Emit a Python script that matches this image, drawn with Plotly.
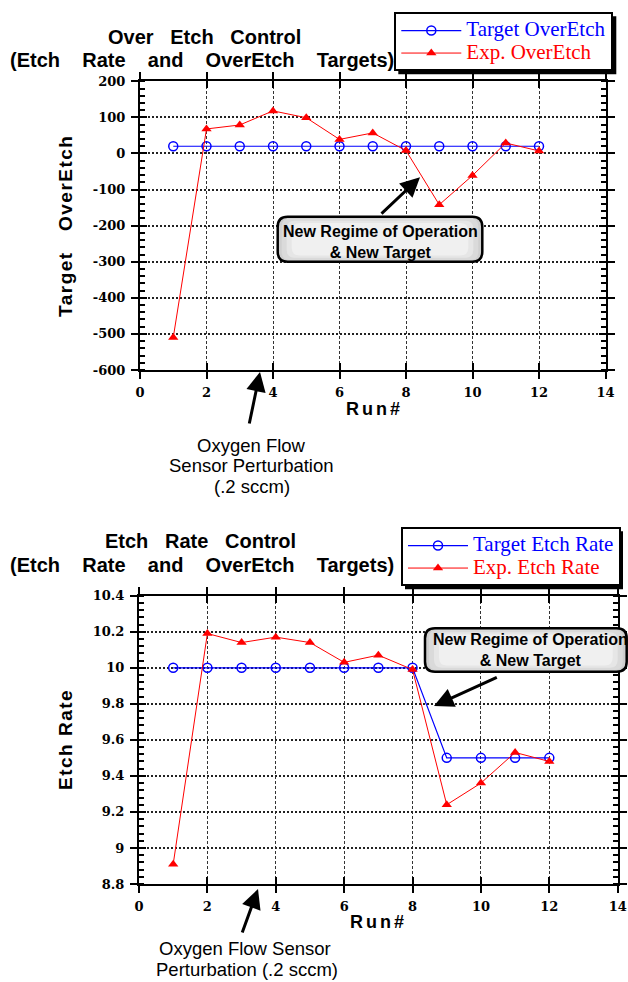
import plotly.graph_objects as go

# Figure fills the whole 628x982 page (body margin removed in post_script)
OFF = 0
W, H = 628, 982

# ---------------- data ----------------
runs = [1, 2, 3, 4, 5, 6, 7, 8, 9, 10, 11, 12]
target_overetch = [20, 20, 20, 20, 20, 20, 20, 20, 20, 20, 20, 20]
exp_overetch = [-510, 68, 79, 118, 99, 39, 57, 8, -142, -61, 29, 7]
target_etch_rate = [10, 10, 10, 10, 10, 10, 10, 10, 9.5, 9.5, 9.5, 9.5]
exp_etch_rate = [8.91, 10.19, 10.14, 10.17, 10.14, 10.03, 10.07, 9.99, 9.24, 9.36, 9.53, 9.48]

x_tickvals = [0, 2, 4, 6, 8, 10, 12, 14]
x_ticktext = ["0", "2", "4", "6", "8", "10", "12", "14"]
y1_tickvals = [-600, -500, -400, -300, -200, -100, 0, 100, 200]
y1_ticktext = ["-600", "-500", "-400", "-300", "-200", "-100", "0", "100", "200"]
y2_tickvals = [8.8, 9.0, 9.2, 9.4, 9.6, 9.8, 10.0, 10.2, 10.4]
y2_ticktext = ["8.8", "9", "9.2", "9.4", "9.6", "9.8", "10", "10.2", "10.4"]

# ---------------- helpers (page pixel -> paper fraction) ----------------
def px(x):
    return (x - OFF) / W

def py(y):
    return 1 - (y - OFF) / H

NB = "\u00a0"
SANS = "Liberation Sans, Arial, sans-serif"
SERIF = "Liberation Serif, Times New Roman, serif"
TICKF = dict(family="DejaVu Serif, serif", size=13, color="black", weight="bold")

BLUE = "#0000ff"
RED = "#ff0000"

def leg_name(s, color):
    return f"<span style='color:{color};font-size:21px'>{s}</span>"

fig = go.Figure()

fig.add_trace(go.Scatter(
    x=runs, y=target_overetch, mode="lines+markers", name=leg_name("Target OverEtch", BLUE),
    line=dict(color=BLUE, width=1.2), marker=dict(symbol="circle-open", size=9, color=BLUE, line=dict(width=1.5)),
    xaxis="x", yaxis="y", legend="legend"))
fig.add_trace(go.Scatter(
    x=runs, y=exp_overetch, mode="lines+markers", name=leg_name("Exp. OverEtch", RED),
    line=dict(color=RED, width=1), marker=dict(symbol="triangle-up", size=9, color=RED),
    xaxis="x", yaxis="y", legend="legend"))

fig.add_trace(go.Scatter(
    x=runs, y=target_etch_rate, mode="lines+markers", name=leg_name("Target Etch Rate", BLUE),
    line=dict(color=BLUE, width=1.2), marker=dict(symbol="circle-open", size=9, color=BLUE, line=dict(width=1.5)),
    xaxis="x2", yaxis="y2", legend="legend2"))
fig.add_trace(go.Scatter(
    x=runs, y=exp_etch_rate, mode="lines+markers", name=leg_name("Exp. Etch Rate", RED),
    line=dict(color=RED, width=1), marker=dict(symbol="triangle-up", size=9, color=RED),
    xaxis="x2", yaxis="y2", legend="legend2"))

# empty traces that activate the overlay axes carrying the inside half of the crossing ticks
fig.add_trace(go.Scatter(x=[], y=[], xaxis="x3", yaxis="y3", showlegend=False))
fig.add_trace(go.Scatter(x=[], y=[], xaxis="x4", yaxis="y4", showlegend=False))

top_xd = [px(140), px(605.5)]
top_yd = [py(370), py(81.3)]
bot_xd = [px(139), px(617.7)]
bot_yd = [py(884), py(595.7)]

def base_x(domain, anchor):
    return dict(domain=domain, anchor=anchor, range=[0, 14], tickvals=x_tickvals, ticktext=x_ticktext,
                ticks="outside", ticklen=7, tickwidth=2, tickcolor="black",
                showline=True, linewidth=2, linecolor="black", mirror="ticks",
                showgrid=True, gridcolor="#333333", gridwidth=1, griddash="3px,2px",
                tickfont=TICKF, zeroline=False, ticklabelstandoff=2, automargin=False)

def base_y(domain, anchor, rng, tv, tt, mdt):
    return dict(domain=domain, anchor=anchor, range=rng, tickvals=tv, ticktext=tt,
                ticks="outside", ticklen=7, tickwidth=2, tickcolor="black",
                showline=True, linewidth=2, linecolor="black", mirror="ticks",
                showgrid=True, gridcolor="#222222", gridwidth=1.5, griddash="2px,2px",
                tickfont=TICKF, zeroline=False, ticklabelstandoff=3, automargin=False,
                minor=dict(ticks="inside", ticklen=5, tickwidth=2, tickcolor="black", dtick=mdt, showgrid=False))

def over_x(over, anchor, domain):
    return dict(overlaying=over, anchor=anchor, domain=domain, range=[0, 14], tickvals=x_tickvals,
                ticks="inside", ticklen=7, tickwidth=2, tickcolor="black", mirror="ticks",
                showticklabels=False, showgrid=False, showline=False, zeroline=False, automargin=False)

def over_y(over, anchor, domain, rng, tv):
    return dict(overlaying=over, anchor=anchor, domain=domain, range=rng, tickvals=tv,
                ticks="inside", ticklen=7, tickwidth=2, tickcolor="black", mirror="ticks",
                showticklabels=False, showgrid=False, showline=False, zeroline=False, automargin=False)

LEG1 = (394.3, 12.3)
LEG2 = (401, 527.3)
LEG_W, LEG_H = 218, 58

legend_common = dict(xanchor="left", yanchor="top", bgcolor="white", bordercolor="black", borderwidth=2,
                     font=dict(family=SERIF, size=15), tracegroupgap=0, itemwidth=60)

layout = dict(
    width=W, height=H, autosize=False,
    margin=dict(l=0, r=0, t=0, b=0, autoexpand=False),
    paper_bgcolor="white", plot_bgcolor="white",
    xaxis=base_x(top_xd, "y"),
    yaxis=base_y(top_yd, "x", [-600, 200], y1_tickvals, y1_ticktext, 20),
    xaxis2=base_x(bot_xd, "y2"),
    yaxis2=base_y(bot_yd, "x2", [8.8, 10.4], y2_tickvals, y2_ticktext, 0.04),
    xaxis3=over_x("x", "y3", top_xd),
    yaxis3=over_y("y", "x3", top_yd, [-600, 200], y1_tickvals),
    xaxis4=over_x("x2", "y4", bot_xd),
    yaxis4=over_y("y2", "x4", bot_yd, [8.8, 10.4], y2_tickvals),
    legend=dict(x=px(LEG1[0]), y=py(LEG1[1]), **legend_common),
    legend2=dict(x=px(LEG2[0]), y=py(LEG2[1]), **legend_common),
    showlegend=True,
)
fig.update_layout(**layout)

shapes = []
for lx, ly in (LEG1, LEG2):
    shapes.append(dict(type="rect", xref="paper", yref="paper",
                       x0=px(lx + 4), x1=px(lx + 4 + LEG_W), y0=py(ly + 4 + LEG_H), y1=py(ly + 4),
                       fillcolor="black", line=dict(width=0), layer="below"))

def rounded(x0, y0, x1, y1, r):
    X = lambda v: f"{px(v):.5f}"
    Y = lambda v: f"{py(v):.5f}"
    return (f"M {X(x0+r)},{Y(y0)} L {X(x1-r)},{Y(y0)} Q {X(x1)},{Y(y0)} {X(x1)},{Y(y0+r)} "
            f"L {X(x1)},{Y(y1-r)} Q {X(x1)},{Y(y1)} {X(x1-r)},{Y(y1)} "
            f"L {X(x0+r)},{Y(y1)} Q {X(x0)},{Y(y1)} {X(x0)},{Y(y1-r)} "
            f"L {X(x0)},{Y(y0+r)} Q {X(x0)},{Y(y0)} {X(x0+r)},{Y(y0)} Z")

def callout_box(x0, y0, x1, y1):
    out = [dict(type="path", xref="paper", yref="paper", path=rounded(x0, y0, x1, y1, 10),
                fillcolor="#cfcfcf", line=dict(color="black", width=2.5), layer="above")]
    for ins, col in [(4, "#dadada"), (9, "#e6e6e6"), (14, "#f0f0f0")]:
        out.append(dict(type="path", xref="paper", yref="paper",
                        path=rounded(x0 + ins, y0 + ins * 0.45, x1 - ins, y1 - ins * 0.45, 8),
                        fillcolor=col, line=dict(width=0), layer="above"))
    return out

shapes += callout_box(277.7, 216.7, 482.3, 261.7)
shapes += callout_box(425, 628.3, 626.7, 671.7)
fig.update_layout(shapes=shapes)

ann = []
def text(x, y, s, size, family=SANS, bold=False, color="black", angle=0):
    ann.append(dict(xref="paper", yref="paper", x=px(x), y=py(y), text=s, showarrow=False,
                    xanchor="center", yanchor="middle", textangle=angle,
                    font=dict(family=family, size=size, color=color, weight="bold" if bold else "normal")))

def arrow(hx, hy, tx, ty):
    ann.append(dict(xref="paper", yref="paper", x=px(hx), y=py(hy), ax=tx - hx, ay=ty - hy,
                    axref="pixel", ayref="pixel", text="", showarrow=True,
                    arrowhead=2, arrowsize=1.3, arrowwidth=3, arrowcolor="black", standoff=0))

sp = NB * 3
sp2 = NB * 4
text(204, 37, f"Over{sp}Etch{sp}Control", 20, bold=True)
text(202, 60, f"(Etch{sp2}Rate{sp2}and{sp2}OverEtch{sp2}Targets)", 20, bold=True)
text(200, 541, f"Etch{sp}Rate{sp}Control", 20, bold=True)
text(202, 565, f"(Etch{sp2}Rate{sp2}and{sp2}OverEtch{sp2}Targets)", 20, bold=True)

LS = "<span style='letter-spacing:1.5px'>{}</span>"
text(65, 226, LS.format(f"Target{NB*3}OverEtch"), 19, bold=True, angle=-90)
text(65, 740, LS.format(f"Etch{NB}Rate"), 19, bold=True, angle=-90)
TS = "\u2006"
text(373, 409, f"R{TS}u{TS}n{TS}#", 18, bold=True)
text(377, 922, f"R{TS}u{TS}n{TS}#", 18, bold=True)

text(380, 242, "New Regime of Operation<br>& New Target", 16, bold=True)
text(530, 650, "New Regime of Operation<br>& New Target", 16, bold=True)

arrow(420, 177.3, 380, 215)
arrow(434, 706, 498.3, 676.7)
arrow(260, 372, 249, 425)
arrow(258, 889, 241.7, 934)

text(251.7, 445, "Oxygen Flow", 18.5)
text(251.7, 465.5, "Sensor Perturbation", 18.5)
text(251.7, 486, "(.2 sccm)", 18.5)
text(245, 948, "Oxygen Flow Sensor", 18.5)
text(246.7, 969.3, "Perturbation (.2 sccm)", 18.5)

fig.update_layout(annotations=ann)

fig.write_html("out.html", config={"displayModeBar": False},
               post_script="document.body.style.margin='0';document.body.style.overflow='hidden';")
